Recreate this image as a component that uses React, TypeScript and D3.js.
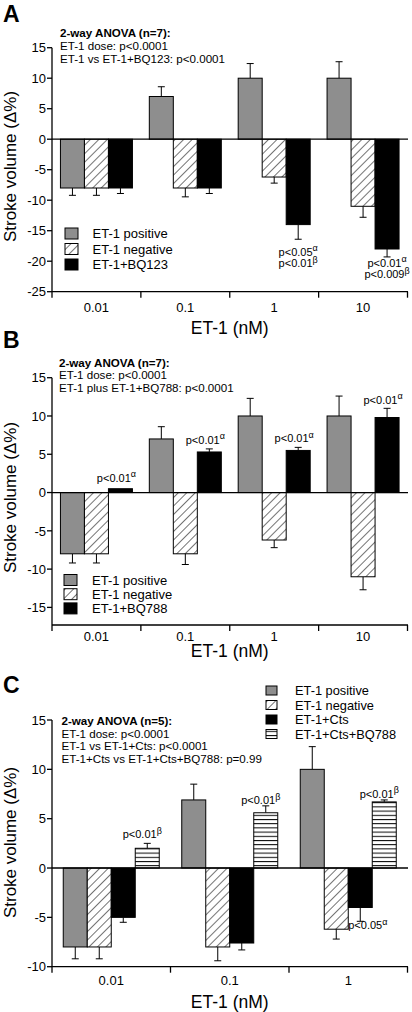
import React from "react";
import * as d3 from "d3";

// ---------- DATA ----------
const dosesAB = ["0.01", "0.1", "1", "10"];
const dosesC = ["0.01", "0.1", "1"];

const seriesA = ["ET-1 positive", "ET-1 negative", "ET-1+BQ123"];
const A_positive = [-8, 7, 10, 10];
const A_positiveErr = [1.2, 1.6, 2.4, 2.7];
const A_negative = [-8, -8, -6.2, -11];
const A_negativeErr = [1.2, 1.45, 1.0, 1.8];
const A_bq123 = [-8, -8, -14, -18];
const A_bq123Err = [0.9, 0.9, 2.4, 1.3];
const A_anova = ["2-way ANOVA (n=7):", "ET-1 dose: p<0.0001", "ET-1 vs ET-1+BQ123: p<0.0001"];
const A_yTicks = [-25, -20, -15, -10, -5, 0, 5, 10, 15];

const seriesB = ["ET-1 positive", "ET-1 negative", "ET-1+BQ788"];
const B_positive = [-8, 7, 10, 10];
const B_positiveErr = [1.2, 1.6, 2.3, 2.6];
const B_negative = [-8, -8, -6.2, -11];
const B_negativeErr = [1.2, 1.4, 1.0, 1.7];
const B_bq788 = [0.5, 5.3, 5.5, 9.8];
const B_bq788Err = [0, 0.4, 0.4, 1.2];
const B_anova = ["2-way ANOVA (n=7):", "ET-1 dose: p<0.0001", "ET-1 plus ET-1+BQ788: p<0.0001"];
const B_yTicks = [-15, -10, -5, 0, 5, 10, 15];

const seriesC = ["ET-1 positive", "ET-1 negative", "ET-1+Cts", "ET-1+Cts+BQ788"];
const C_positive = [-8, 6.9, 10];
const C_positiveErr = [1.2, 1.6, 2.3];
const C_negative = [-8, -8, -6.2];
const C_negativeErr = [1.2, 1.4, 1.0];
const C_cts = [-5, -7.6, -4];
const C_ctsErr = [0.5, 0.7, 1.4];
const C_ctsBq788 = [2, 5.6, 6.7];
const C_ctsBq788Err = [0.5, 0.7, 0.2];
const C_anova = [
  "2-way ANOVA (n=5):",
  "ET-1 dose: p<0.0001",
  "ET-1 vs ET-1+Cts: p<0.0001",
  "ET-1+Cts vs ET-1+Cts+BQ788: p=0.99",
];
const C_yTicks = [-10, -5, 0, 5, 10, 15];

type Ann = { g: number; s: number; v: number; lines: [string, string][] };
const A_ann: Ann[] = [
  { g: 2, s: 2, v: -19.1, lines: [["p<0.05", "α"], ["p<0.01", "β"]] },
  { g: 3, s: 2, v: -20.9, lines: [["p<0.01", "α"], ["p<0.009", "β"]] },
];
const B_ann: Ann[] = [
  { g: 0, s: 2, v: 1.4, lines: [["p<0.01", "α"]] },
  { g: 1, s: 2, v: 6.4, lines: [["p<0.01", "α"]] },
  { g: 2, s: 2, v: 6.6, lines: [["p<0.01", "α"]] },
  { g: 3, s: 2, v: 11.6, lines: [["p<0.01", "α"]] },
];
const C_ann: Ann[] = [
  { g: 0, s: 3, v: 3.0, lines: [["p<0.01", "β"]] },
  { g: 1, s: 3, v: 6.45, lines: [["p<0.01", "β"]] },
  { g: 2, s: 3, v: 7.1, lines: [["p<0.01", "β"]] },
  { g: 2, s: 2, v: -6.2, lines: [["p<0.05", "α"]] },
];

// ---------- STYLE / LAYOUT ----------
const FONT = "'Liberation Sans', Arial, Helvetica, sans-serif";
const GRAY = "#8e8e8e";
const FILLS: Record<string, string> = {
  gray: GRAY,
  hatch: "url(#hatch)",
  black: "#000",
  stripes: "url(#stripes)",
};

type PanelProps = {
  title: string;
  titleY: number;
  cats: string[];
  names: string[];
  values: number[][];
  errs: number[][];
  fills: string[];
  domain: [number, number];
  range: [number, number]; // [bottom, top]
  ticks: number[];
  anova: string[];
  anovaX: number;
  anovaY: number;
  anovaDy: number;
  legendX: number;
  legendTextX: number;
  legendY: number;
  legendDy: number;
  legendW: number;
  legendH: number;
  legendFont: number;
  ann: Ann[];
  annDx: number;
  annAnchor?: (a: Ann) => "middle" | "start";
  annLh: number;
  tickLabelDy: number;
  xLabelDy: number;
  yLabelCenter: number;
};

const X0 = 52;
const X1 = 407.5;
const BAR_W = 24;

function Panel(p: PanelProps) {
  const y = d3.scaleLinear().domain(p.domain).range(p.range);
  const x = d3.scaleBand<string>().domain(p.cats).range([X0, X1]).padding(0);
  const bw = x.bandwidth();
  const gw = p.names.length * BAR_W;
  const sub = d3
    .scaleBand<string>()
    .domain(p.names)
    .range([bw / 2 - gw / 2, bw / 2 + gw / 2])
    .padding(0);
  const yBottom = p.range[0];
  const yTop = p.range[1];
  const tickXs = [...p.cats.map((c) => x(c)!), X1];

  return (
    <g fontFamily={FONT}>
      <text x={3} y={p.titleY} fontSize={23} fontWeight="bold">
        {p.title}
      </text>
      {p.anova.map((t, i) => (
        <text
          key={i}
          x={p.anovaX}
          y={p.anovaY + i * p.anovaDy}
          fontSize={11.6}
          fontWeight={i === 0 ? "bold" : "normal"}
        >
          {t}
        </text>
      ))}
      {/* bars */}
      {p.cats.map((c, gi) => (
        <g key={c}>
          {p.names.map((n, si) => {
            const v = p.values[si][gi];
            const e = p.errs[si][gi];
            const bx = x(c)! + sub(n)!;
            const cx = bx + BAR_W / 2;
            const y0 = y(0);
            const yv = y(v);
            const ye = y(v + (v >= 0 ? e : -e));
            return (
              <g key={n}>
                {e > 0 && (
                  <g stroke="#000" strokeWidth={1}>
                    <line x1={cx} x2={cx} y1={yv} y2={ye} />
                    <line x1={cx - 3.5} x2={cx + 3.5} y1={ye} y2={ye} />
                  </g>
                )}
                <rect
                  x={bx}
                  y={Math.min(y0, yv)}
                  width={BAR_W}
                  height={Math.abs(yv - y0)}
                  fill={FILLS[p.fills[si]]}
                  stroke="#000"
                  strokeWidth={1}
                />
              </g>
            );
          })}
        </g>
      ))}
      {/* zero line */}
      <line x1={X0} x2={X1 + 0.5} y1={y(0)} y2={y(0)} stroke="#000" strokeWidth={1.3} />
      {/* y axis */}
      <line x1={X0} x2={X0} y1={yTop} y2={yBottom} stroke="#000" strokeWidth={1.3} />
      {p.ticks.map((t) => (
        <g key={t}>
          <line x1={X0 - 5} x2={X0} y1={y(t)} y2={y(t)} stroke="#000" strokeWidth={1.3} />
          <text x={X0 - 6} y={y(t)} dy="0.36em" fontSize={13} textAnchor="end">
            {t}
          </text>
        </g>
      ))}
      {/* x axis */}
      <line x1={X0} x2={X1 + 0.5} y1={yBottom} y2={yBottom} stroke="#000" strokeWidth={1.3} />
      {tickXs.map((tx, i) => (
        <line key={i} x1={tx} x2={tx} y1={yBottom} y2={yBottom + 6} stroke="#000" strokeWidth={1.3} />
      ))}
      {p.cats.map((c) => (
        <text key={c} x={x(c)! + bw / 2} y={yBottom + p.tickLabelDy} fontSize={13} textAnchor="middle">
          {c}
        </text>
      ))}
      <text x={(X0 + X1) / 2} y={yBottom + p.xLabelDy} fontSize={17.5} textAnchor="middle">
        ET-1 (nM)
      </text>
      <text
        transform={`translate(16,${p.yLabelCenter}) rotate(-90)`}
        fontSize={17}
        textAnchor="middle"
      >
        Stroke volume (Δ%)
      </text>
      {/* legend */}
      {p.names.map((n, i) => {
        const ly = p.legendY + i * p.legendDy;
        return (
          <g key={n}>
            <rect
              x={p.legendX}
              y={ly - p.legendH / 2}
              width={p.legendW}
              height={p.legendH}
              fill={FILLS[p.fills[i]]}
              stroke="#000"
              strokeWidth={1}
            />
            <text x={p.legendTextX} y={ly} dy="0.36em" fontSize={p.legendFont}>
              {n}
            </text>
          </g>
        );
      })}
      {/* annotations */}
      {p.ann.map((a, ai) => {
        const c = p.cats[a.g];
        const n = p.names[a.s];
        const bx = x(c)! + sub(n)!;
        const anchor = p.annAnchor ? p.annAnchor(a) : "middle";
        const ax = anchor === "middle" ? bx + BAR_W / 2 + p.annDx : bx;
        return (
          <g key={ai}>
            {a.lines.map((l, li) => (
              <text key={li} x={ax} y={y(a.v) + li * p.annLh} fontSize={11} textAnchor={anchor}>
                {l[0]}
                <tspan fontSize={9} dy={-4.5}>
                  {l[1]}
                </tspan>
              </text>
            ))}
          </g>
        );
      })}
    </g>
  );
}

export default function App() {
  return (
    <svg
      width={412}
      height={1012}
      style={{ position: "absolute", left: 0, top: 0, background: "#fff" }}
    >
      <defs>
        <pattern id="hatch" patternUnits="userSpaceOnUse" width={6} height={6} patternTransform="rotate(45)">
          <rect width={6} height={6} fill="#fff" />
          <line x1={0} y1={0} x2={0} y2={6} stroke="#000" strokeWidth={1.1} />
        </pattern>
        <pattern id="stripes" patternUnits="userSpaceOnUse" width={6} height={4.2}>
          <rect width={6} height={4.2} fill="#fff" />
          <line x1={0} y1={0.5} x2={6} y2={0.5} stroke="#000" strokeWidth={1} />
        </pattern>
      </defs>
      <rect width={412} height={1012} fill="#fff" />
      <Panel
        title="A"
        titleY={22}
        cats={dosesAB}
        names={seriesA}
        values={[A_positive, A_negative, A_bq123]}
        errs={[A_positiveErr, A_negativeErr, A_bq123Err]}
        fills={["gray", "hatch", "black"]}
        domain={[-25, 15]}
        range={[291.7, 47.7]}
        ticks={A_yTicks}
        anova={A_anova}
        anovaX={60}
        anovaY={36.5}
        anovaDy={13}
        legendX={65}
        legendTextX={92.5}
        legendY={233.5}
        legendDy={15.5}
        legendW={13}
        legendH={11}
        legendFont={13}
        ann={A_ann}
        annDx={0}
        annLh={11.5}
        tickLabelDy={20}
        xLabelDy={42}
        yLabelCenter={166.5}
      />
      <Panel
        title="B"
        titleY={348}
        cats={dosesAB}
        names={seriesB}
        values={[B_positive, B_negative, B_bq788]}
        errs={[B_positiveErr, B_negativeErr, B_bq788Err]}
        fills={["gray", "hatch", "black"]}
        domain={[-17.3, 15]}
        range={[625, 377.7]}
        ticks={B_yTicks}
        anova={B_anova}
        anovaX={59}
        anovaY={366.5}
        anovaDy={12.5}
        legendX={64}
        legendTextX={92}
        legendY={580}
        legendDy={14.2}
        legendW={13}
        legendH={11}
        legendFont={13}
        ann={B_ann}
        annDx={-4}
        annLh={11}
        tickLabelDy={16}
        xLabelDy={32}
        yLabelCenter={497.5}
      />
      <Panel
        title="C"
        titleY={693}
        cats={dosesC}
        names={seriesC}
        values={[C_positive, C_negative, C_cts, C_ctsBq788]}
        errs={[C_positiveErr, C_negativeErr, C_ctsErr, C_ctsBq788Err]}
        fills={["gray", "hatch", "black", "stripes"]}
        domain={[-10, 15]}
        range={[966.7, 720]}
        ticks={C_yTicks}
        anova={C_anova}
        anovaX={61.5}
        anovaY={725}
        anovaDy={12.6}
        legendX={266}
        legendTextX={295}
        legendY={690.5}
        legendDy={14.5}
        legendW={11}
        legendH={9}
        legendFont={12.8}
        ann={C_ann}
        annDx={-5}
        annAnchor={(a) => (a.s === 2 ? "start" : "middle")}
        annLh={11}
        tickLabelDy={18.5}
        xLabelDy={41}
        yLabelCenter={842.5}
      />
    </svg>
  );
}
